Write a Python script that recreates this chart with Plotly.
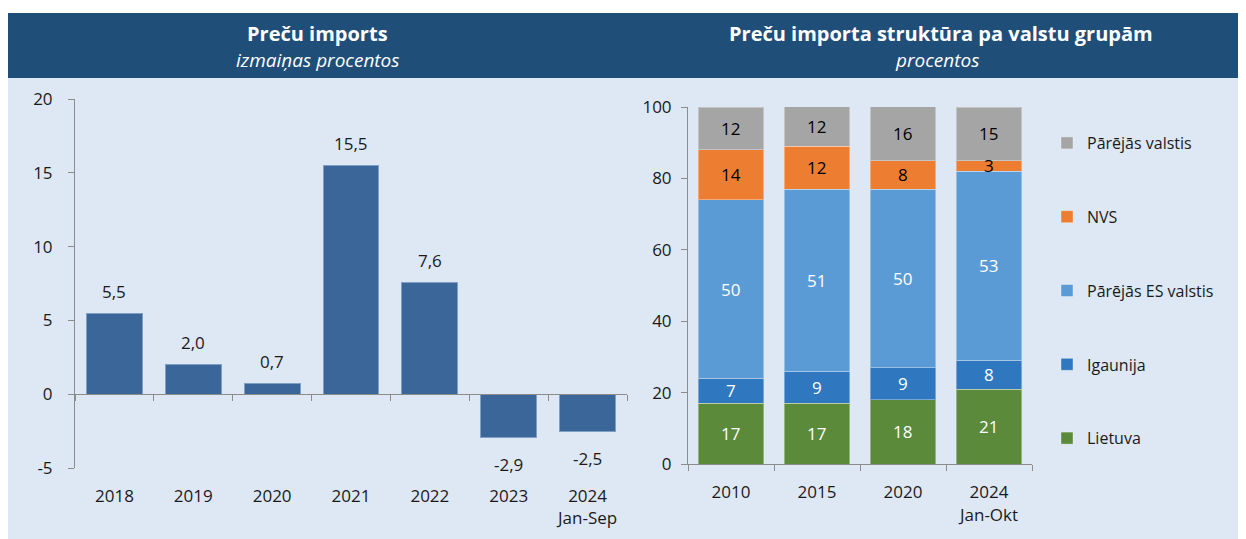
import plotly.graph_objects as go

# Left chart data
years_left = ["2018", "2019", "2020", "2021", "2022", "2023", "2024<br>Jan-Sep"]
import_change = [5.5, 2.0, 0.7, 15.5, 7.6, -2.9, -2.5]

# Right chart data
years_right = ["2010", "2015", "2020", "2024<br>Jan-Okt"]
series_names = ["Lietuva", "Igaunija", "Pārējās ES valstis", "NVS", "Pārējās valstis"]
lietuva = [17, 17, 18, 21]
igaunija = [7, 9, 9, 8]
es_other = [50, 51, 50, 53]
nvs = [14, 12, 8, 3]
other = [12, 12, 16, 15]
series_values = [lietuva, igaunija, es_other, nvs, other]
series_colors = ["#5b8a3a", "#2f78c0", "#5b9bd5", "#ed7d31", "#a5a5a5"]
text_colors = ["white", "white", "white", "black", "black"]

FONT = "Open Sans"
OFF = 8  # default page body margin
W, H = 1246 - OFF, 539 - OFF

def fx(px):
    return (px - OFF) / W

def fy(py):
    return 1 - (py - OFF) / H

fig = go.Figure()

# Left bars
fig.add_trace(go.Bar(
    x=years_left, y=import_change, xaxis="x", yaxis="y",
    marker=dict(color="#3b6699", line=dict(color="#7f9fc4", width=1)),
    width=0.71, showlegend=False, hoverinfo="x+y",
))

for i, v in enumerate(import_change):
    fig.add_annotation(
        x=i, y=v, xref="x", yref="y", text=f"{v:.1f}".replace(".", ","),
        showarrow=False, yshift=22 if v >= 0 else -27,
        font=dict(family=FONT, size=17, color="#1a1a1a"),
    )

# Right stacked bars
n_series = len(series_names)
for k, (name, vals, col) in enumerate(zip(series_names, series_values, series_colors)):
    fig.add_trace(go.Bar(
        x=years_right, y=vals, name=name, xaxis="x2", yaxis="y2",
        marker=dict(color=col, line=dict(color="rgba(255,255,255,0.35)", width=1)),
        width=0.76, legendgroup=name, legendrank=n_series - k,
    ))

cum = [0] * len(years_right)
for vals, tcol in zip(series_values, text_colors):
    for i, v in enumerate(vals):
        top = min(cum[i] + v, 100)
        mid = (cum[i] + top) / 2
        fig.add_annotation(
            x=i, y=mid, xref="x2", yref="y2", text=str(v), showarrow=False,
            font=dict(family=FONT, size=17, color=tcol),
        )
        cum[i] += v

# Layout geometry (reference pixel coordinates)
L_x0, L_x1, L_ytop, L_ybot = 75, 627, 99, 468
R_x0, R_x1, R_ytop, R_ybot = 688, 1032, 107, 464
left_range = [-5, 20]
ydom_left = [fy(L_ybot), fy(L_ytop)]
zero_pos = ydom_left[0] + (0 - left_range[0]) / (left_range[1] - left_range[0]) * (ydom_left[1] - ydom_left[0])

axis_col = "#8c8c8c"
tickfont = dict(family=FONT, size=17, color="#1a1a1a")

fig.update_layout(
    width=W, height=H,
    margin=dict(l=0, r=0, t=0, b=0, autoexpand=False),
    paper_bgcolor="white", plot_bgcolor="rgba(0,0,0,0)",
    barmode="stack",
    font=dict(family=FONT, size=17, color="#1a1a1a"),
    xaxis=dict(
        domain=[fx(L_x0), fx(L_x1)], anchor="free", position=zero_pos,
        type="category", range=[-0.5, len(years_left) - 0.5],
        showline=True, linecolor=axis_col, linewidth=1,
        ticks="outside", tickson="boundaries", ticklen=6, tickcolor=axis_col,
        ticklabelstandoff=86, tickfont=tickfont, showgrid=False, zeroline=False,
        tickangle=0, automargin=False,
    ),
    yaxis=dict(
        domain=ydom_left, range=left_range, tickvals=[-5, 0, 5, 10, 15, 20],
        ticktext=["-5", "0", "5", "10", "15", "20"],
        showline=True, linecolor=axis_col, linewidth=1, ticks="outside",
        ticklen=6, tickcolor=axis_col, ticklabelstandoff=12, tickfont=tickfont,
        showgrid=False, zeroline=False, anchor="x", automargin=False,
    ),
    xaxis2=dict(
        domain=[fx(R_x0), fx(R_x1)], anchor="y2", type="category",
        range=[-0.5, len(years_right) - 0.5],
        showline=True, linecolor=axis_col, linewidth=1,
        ticks="outside", tickson="boundaries", ticklen=6, tickcolor=axis_col,
        ticklabelstandoff=13, tickfont=tickfont, showgrid=False, zeroline=False,
        tickangle=0, automargin=False,
    ),
    yaxis2=dict(
        domain=[fy(R_ybot), fy(R_ytop)], range=[0, 100], tickvals=[0, 20, 40, 60, 80, 100],
        anchor="x2", showline=True, linecolor=axis_col, linewidth=1,
        ticks="outside", ticklen=6, tickcolor=axis_col, ticklabelstandoff=6,
        tickfont=tickfont, showgrid=False, zeroline=False, automargin=False,
    ),
    legend=dict(
        x=fx(1047), y=fy(126), xanchor="left", yanchor="top",
        traceorder="grouped", tracegroupgap=50,
        font=dict(family=FONT, size=16, color="#1a1a1a"),
        bgcolor="rgba(0,0,0,0)", itemwidth=30,
    ),
    bargap=0.24,
)

# Background panels
fig.add_shape(type="rect", xref="paper", yref="paper", layer="below",
              x0=fx(5), x1=fx(1240), y0=fy(545), y1=fy(78),
              fillcolor="#dde8f4", line=dict(width=0))
fig.add_shape(type="rect", xref="paper", yref="paper", layer="below",
              x0=fx(5), x1=fx(1240), y0=fy(78), y1=fy(13),
              fillcolor="#1f4e79", line=dict(width=0))

# Header titles
fig.add_annotation(x=fx(317), y=fy(34), xref="paper", yref="paper", showarrow=False,
                   xanchor="center", yanchor="middle",
                   text="<b>Preču imports</b>", font=dict(family=FONT, size=20, color="white"))
fig.add_annotation(x=fx(318), y=fy(60), xref="paper", yref="paper", showarrow=False,
                   xanchor="center", yanchor="middle",
                   text="<i>izmaiņas procentos</i>", font=dict(family=FONT, size=19, color="white"))
fig.add_annotation(x=fx(941), y=fy(34), xref="paper", yref="paper", showarrow=False,
                   xanchor="center", yanchor="middle",
                   text="<b>Preču importa struktūra pa valstu grupām</b>",
                   font=dict(family=FONT, size=20, color="white"))
fig.add_annotation(x=fx(937), y=fy(60), xref="paper", yref="paper", showarrow=False,
                   xanchor="center", yanchor="middle",
                   text="<i>procentos</i>", font=dict(family=FONT, size=19, color="white"))

fig.write_html("out.html")
